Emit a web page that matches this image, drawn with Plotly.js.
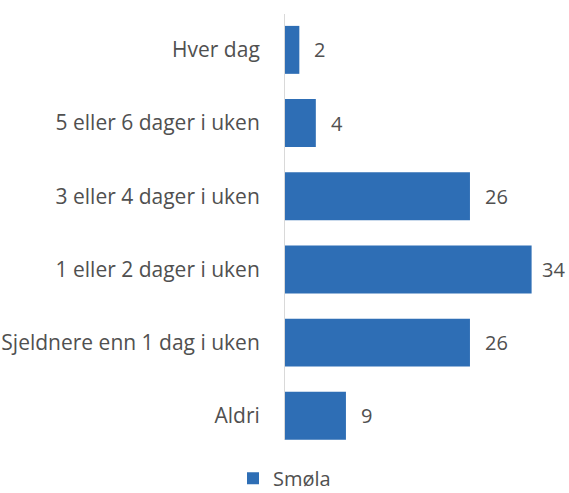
<!DOCTYPE html>
<html><head><meta charset="utf-8">
<script src="https://cdn.plot.ly/plotly-3.0.1.min.js"></script>
<style>html,body{margin:0;padding:0;background:#fff}</style>
</head><body>
<div id="chart" style="width:569px;height:493px"></div>
<script>
const categories = ["Hver dag","5 eller 6 dager i uken","3 eller 4 dager i uken","1 eller 2 dager i uken","Sjeldnere enn 1 dag i uken","Aldri"];
const values = [2.0, 4.3, 25.8, 34.4, 25.8, 8.5];
const valueLabels = ["2","4","26","34","26","9"];
const seriesName = "Smøla";
const barColor = "#2e6eb5";
const textColor = "#505050";
const fontFam = "'Open Sans', sans-serif";
const maxVal = Math.max(...values);

const annotations = categories.map((c,i)=>({
  x: values[i], y: c, xref:'x', yref:'y', text: valueLabels[i],
  xanchor:'left', yanchor:'middle', xshift: values[i] === maxVal ? 8 : 13, showarrow:false,
  font:{family:fontFam, size:20, color:textColor}
}));

Plotly.newPlot('chart',[{
  type:'bar', orientation:'h', x: values, y: categories, name: seriesName,
  marker:{color:barColor}, hoverinfo:'none'
}],{
  width:569, height:493,
  margin:{l:285, r:8, t:14, b:53, autoexpand:false},
  bargap:0.345,
  showlegend:true,
  legend:{orientation:'h', x:0.5, xanchor:'center', xref:'container', y:0.03, yanchor:'middle', yref:'container',
    font:{family:fontFam, size:20, color:textColor}, itemwidth:30},
  xaxis:{range:[0,38.5], showgrid:false, zeroline:false, showticklabels:false, showline:false, fixedrange:true},
  yaxis:{type:'category', range:[5.33,-0.49], showgrid:false, zeroline:false, showline:true,
    linecolor:'#d9d9d9', linewidth:1, ticks:'', ticklabelstandoff:20, automargin:false,
    tickfont:{family:fontFam, size:21, color:textColor}},
  annotations: annotations,
  paper_bgcolor:'#fff', plot_bgcolor:'#fff'
},{displayModeBar:false, staticPlot:true});
</script>
</body></html>
